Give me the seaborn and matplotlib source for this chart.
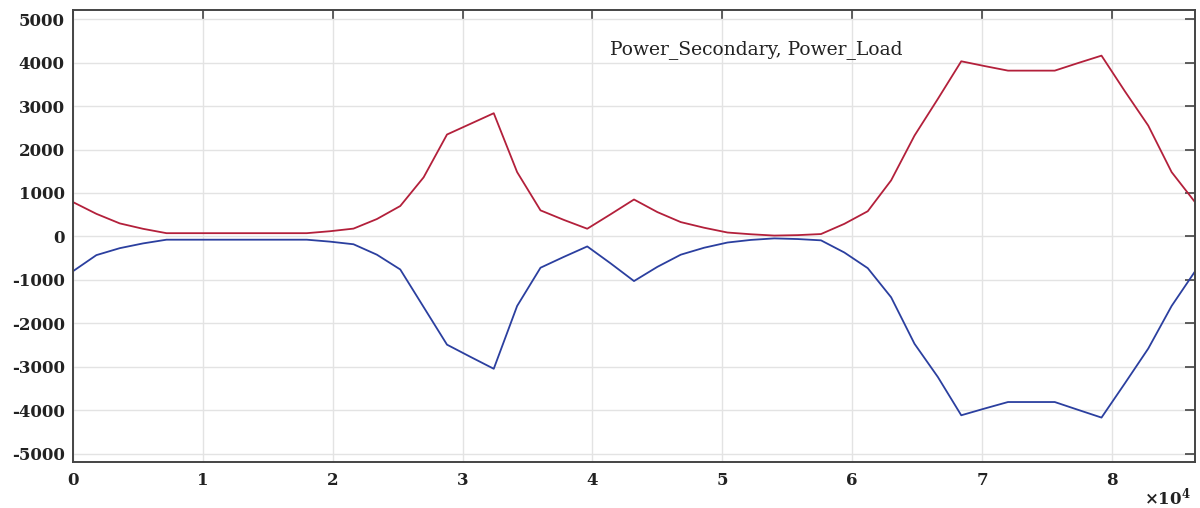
import numpy as np
import pandas as pd
import matplotlib
matplotlib.use("Agg")
import matplotlib.pyplot as plt
import seaborn as sns

# ---- data ----
hours = [0, 0.5, 1, 1.5, 2, 2.5, 3, 3.5, 4, 4.5, 5, 5.5, 6, 6.5, 7, 7.5, 8, 8.5,
         9, 9.5, 10, 10.5, 11, 11.5, 12, 12.5, 13, 13.5, 14, 14.5, 15, 15.5, 16,
         16.5, 17, 17.5, 18, 18.5, 19, 19.5, 20, 20.5, 21, 21.5, 22, 22.5, 23,
         23.5, 24]
power_secondary = [790, 520, 300, 175, 75, 75, 75, 75, 75, 75, 75, 120, 180, 400,
                   700, 1360, 2345, 2590, 2835, 1480, 600, 380, 177, 510, 850, 560,
                   330, 200, 90, 50, 20, 30, 55, 290, 580, 1290, 2320, 3165, 4030,
                   3920, 3815, 3815, 3815, 3990, 4160, 3340, 2550, 1480, 790]
power_load = [-800, -430, -270, -160, -75, -75, -75, -75, -75, -75, -75, -120, -180,
              -420, -760, -1625, -2490, -2770, -3045, -1600, -720, -470, -230, -620,
              -1027, -700, -420, -260, -140, -80, -45, -60, -90, -370, -730, -1400,
              -2470, -3235, -4115, -3960, -3810, -3810, -3810, -3990, -4168, -3380,
              -2580, -1600, -805]
x_ticks = [0, 10000, 20000, 30000, 40000, 50000, 60000, 70000, 80000]
x_tick_labels = ["0", "1", "2", "3", "4", "5", "6", "7", "8"]
y_ticks = [-5000, -4000, -3000, -2000, -1000, 0, 1000, 2000, 3000, 4000, 5000]
title_text = "Power_Secondary, Power_Load"

df = pd.DataFrame({
    "time": np.array(hours) * 3600.0,
    "Power_Secondary": power_secondary,
    "Power_Load": power_load,
})

sns.set_style("white")
plt.rcParams["axes.unicode_minus"] = False
plt.rcParams["mathtext.fontset"] = "dejavuserif"

fig = plt.figure(figsize=(12, 5.08), dpi=100)
ax = fig.add_axes([73 / 1200, 46 / 508, 1122 / 1200, 452 / 508])

sns.lineplot(data=df, x="time", y="Power_Secondary", ax=ax, color="#b3203b", linewidth=1.3)
sns.lineplot(data=df, x="time", y="Power_Load", ax=ax, color="#2b3f9f", linewidth=1.3)

ax.set_xlim(0, 86400)
ax.set_ylim(-5190, 5210)
ax.set_xticks(x_ticks)
ax.set_xticklabels(x_tick_labels)
ax.set_yticks(y_ticks)
ax.set_yticklabels([str(v) for v in y_ticks])
ax.set_xlabel("")
ax.set_ylabel("")

ax.grid(True, color="#e3e3e3", linewidth=1.0)
ax.set_axisbelow(True)
for s in ax.spines.values():
    s.set_color("#444444")
    s.set_linewidth(1.4)

ax.tick_params(direction="in", length=7, width=1.2, color="#444444",
               top=True, right=True, labeltop=False, labelright=False)
for lab in ax.get_xticklabels() + ax.get_yticklabels():
    lab.set_fontfamily("DejaVu Serif")
    lab.set_fontweight("bold")
    lab.set_fontsize(12)
    lab.set_color("#222222")
ax.tick_params(axis="x", pad=7)
ax.tick_params(axis="y", pad=6)

ax.text(0.609, 0.912, title_text, transform=ax.transAxes, ha="center", va="center",
        fontfamily="DejaVu Serif", fontsize=13.5, color="#222222")

fig.text(1191 / 1200, 11 / 508, r"$\mathbf{\times 10^{4}}$", ha="right", va="center",
         fontsize=12, color="#222222")

fig.savefig("out.png", dpi=100)
